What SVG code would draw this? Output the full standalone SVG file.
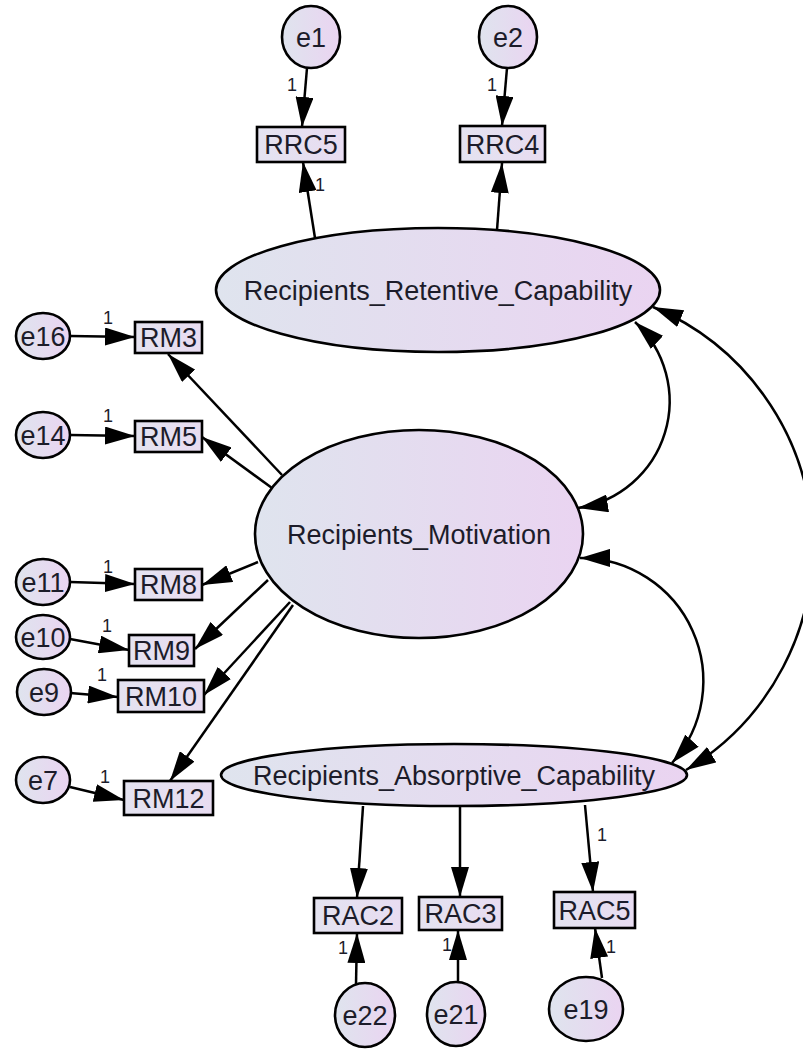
<svg xmlns="http://www.w3.org/2000/svg" width="803" height="1052" viewBox="0 0 803 1052">
  <defs>
    <linearGradient id="shade" x1="0" y1="0" x2="1" y2="0">
      <stop offset="0" stop-color="#dfe4ee"/>
      <stop offset="1" stop-color="#ead4f1"/>
    </linearGradient>
    <linearGradient id="shadeBox" x1="0" y1="0" x2="1" y2="0">
      <stop offset="0" stop-color="#e4e3f0"/>
      <stop offset="1" stop-color="#e8dcf1"/>
    </linearGradient>
    <marker id="ah" viewBox="0 0 30 18" refX="30" refY="9" markerWidth="30" markerHeight="18" markerUnits="userSpaceOnUse" orient="auto-start-reverse">
      <path d="M0,0 L30,9 L0,18 z" fill="#000"/>
    </marker>
    <style>
      .latent { fill: url(#shade); stroke: #000; stroke-width: 2.6; }
      .err { fill: url(#shade); stroke: #000; stroke-width: 2.6; }
      .obs { fill: url(#shadeBox); stroke: #000; stroke-width: 2.6; }
      .lbl { font-family: "Liberation Sans", Arial, sans-serif; font-size: 27px; fill: #1c1c2a; text-anchor: middle; }
      .w { font-family: "Liberation Sans", Arial, sans-serif; font-size: 18px; fill: #1c1c2a; text-anchor: middle; }
      .path { fill: none; stroke: #000; stroke-width: 2.5; marker-end: url(#ah); }
      .cov { fill: none; stroke: #000; stroke-width: 2.5; marker-start: url(#ah); marker-end: url(#ah); }
    </style>
  </defs>

  <!-- connectors: regression paths, error terms, covariances -->
  <g id="connectors">
    <!-- error terms to indicators -->
    <path class="path" d="M307,68 L302,127"/>
    <path class="path" d="M507,68 L502,126"/>
    <path class="path" d="M70,336 L135,337"/>
    <path class="path" d="M70,435 L135,436"/>
    <path class="path" d="M70,582 L135,584"/>
    <path class="path" d="M70,639 L129,650"/>
    <path class="path" d="M70,693 L118,697"/>
    <path class="path" d="M70,787 L124,800"/>
    <path class="path" d="M356,984 L357,933"/>
    <path class="path" d="M458,982 L458,930"/>
    <path class="path" d="M602,978 L595,928"/>

    <!-- latent factors to indicators -->
    <path class="path" d="M315,238 L303,162"/>
    <path class="path" d="M497,230 L502,163"/>
    <path class="path" d="M282,475 L168,354"/>
    <path class="path" d="M272,488 L202,437"/>
    <path class="path" d="M258,562 L202,585"/>
    <path class="path" d="M268,580 L195,649"/>
    <path class="path" d="M290,602 L204,695"/>
    <path class="path" d="M293,605 L170,781"/>
    <path class="path" d="M363,806 L357,898"/>
    <path class="path" d="M460,807 L460,897"/>
    <path class="path" d="M585,805 L593,892"/>

    <!-- covariances between factors -->
    <path class="cov" d="M635,322 A108,108 0 0 1 578,508"/>
    <path class="cov" d="M653,307 A260,260 0 0 1 686,770"/>
    <path class="cov" d="M580,558 A123,123 0 0 1 672,763"/>

    <!-- fixed loadings -->
    <text class="w" x="292" y="91">1</text>
    <text class="w" x="320" y="191">1</text>
    <text class="w" x="492" y="91">1</text>
    <text class="w" x="108" y="324">1</text>
    <text class="w" x="108" y="422">1</text>
    <text class="w" x="108" y="573">1</text>
    <text class="w" x="107" y="632">1</text>
    <text class="w" x="102" y="681">1</text>
    <text class="w" x="105" y="783">1</text>
    <text class="w" x="343" y="954">1</text>
    <text class="w" x="447" y="951">1</text>
    <text class="w" x="611" y="953">1</text>
    <text class="w" x="602" y="841">1</text>
  </g>

  <!-- latent factors -->
  <g id="retentive">
    <ellipse class="latent" cx="438" cy="290" rx="222" ry="62"/>
    <text class="lbl" x="438" y="299.5">Recipients_Retentive_Capability</text>
  </g>
  <g id="motivation">
    <ellipse class="latent" cx="419" cy="534" rx="164" ry="104"/>
    <text class="lbl" x="419" y="544">Recipients_Motivation</text>
  </g>
  <g id="absorptive">
    <ellipse class="latent" cx="454" cy="775" rx="233" ry="31"/>
    <text class="lbl" x="454" y="784.5">Recipients_Absorptive_Capability</text>
  </g>

  <!-- observed indicators -->
  <g id="RRC5"><rect class="obs" x="257" y="127" width="88" height="35"/><text class="lbl" x="301" y="154">RRC5</text></g>
  <g id="RRC4"><rect class="obs" x="460" y="126" width="85" height="36"/><text class="lbl" x="502.5" y="153.5">RRC4</text></g>
  <g id="RM3"><rect class="obs" x="135" y="322" width="67" height="31"/><text class="lbl" x="168.5" y="347">RM3</text></g>
  <g id="RM5"><rect class="obs" x="135" y="421" width="67" height="31"/><text class="lbl" x="168.5" y="446">RM5</text></g>
  <g id="RM8"><rect class="obs" x="135" y="569" width="67" height="31"/><text class="lbl" x="168.5" y="594">RM8</text></g>
  <g id="RM9"><rect class="obs" x="129" y="635" width="65" height="31"/><text class="lbl" x="161.5" y="660">RM9</text></g>
  <g id="RM10"><rect class="obs" x="118" y="680" width="86" height="32"/><text class="lbl" x="161" y="705.5">RM10</text></g>
  <g id="RM12"><rect class="obs" x="124" y="781" width="89" height="34"/><text class="lbl" x="168.5" y="807.5">RM12</text></g>
  <g id="RAC2"><rect class="obs" x="314" y="898" width="88" height="35"/><text class="lbl" x="358" y="925">RAC2</text></g>
  <g id="RAC3"><rect class="obs" x="419" y="897" width="83" height="33"/><text class="lbl" x="460.5" y="923">RAC3</text></g>
  <g id="RAC5"><rect class="obs" x="554" y="892" width="81" height="36"/><text class="lbl" x="594.5" y="919.5">RAC5</text></g>

  <!-- error terms -->
  <g id="e1"><ellipse class="err" cx="311" cy="37" rx="29" ry="31"/><text class="lbl" x="311" y="46.5">e1</text></g>
  <g id="e2"><ellipse class="err" cx="508" cy="37" rx="29" ry="31"/><text class="lbl" x="508" y="46.5">e2</text></g>
  <g id="e16"><ellipse class="err" cx="43" cy="336" rx="27" ry="23"/><text class="lbl" x="43" y="345.5">e16</text></g>
  <g id="e14"><ellipse class="err" cx="43" cy="435" rx="27" ry="23"/><text class="lbl" x="43" y="444.5">e14</text></g>
  <g id="e11"><ellipse class="err" cx="43" cy="582" rx="27" ry="23"/><text class="lbl" x="43" y="591.5">e11</text></g>
  <g id="e10"><ellipse class="err" cx="43" cy="637" rx="27" ry="22"/><text class="lbl" x="43" y="646.5">e10</text></g>
  <g id="e9"><ellipse class="err" cx="44" cy="692" rx="27" ry="23"/><text class="lbl" x="44" y="701.5">e9</text></g>
  <g id="e7"><ellipse class="err" cx="43" cy="780" rx="27" ry="23"/><text class="lbl" x="43" y="789.5">e7</text></g>
  <g id="e22"><ellipse class="err" cx="365" cy="1015" rx="30" ry="32"/><text class="lbl" x="365" y="1024.5">e22</text></g>
  <g id="e21"><ellipse class="err" cx="456" cy="1014" rx="29" ry="32"/><text class="lbl" x="456" y="1023.5">e21</text></g>
  <g id="e19"><ellipse class="err" cx="586" cy="1009" rx="37" ry="32"/><text class="lbl" x="586" y="1018.5">e19</text></g>
</svg>
